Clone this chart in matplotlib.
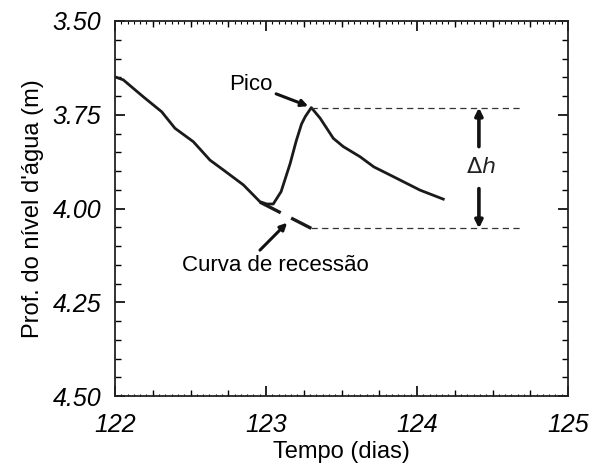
import matplotlib
matplotlib.use("Agg")
import matplotlib.pyplot as plt
from matplotlib.ticker import MultipleLocator, FixedLocator, NullFormatter

plt.rcParams['font.family'] = ['Liberation Sans', 'DejaVu Sans']

# ---- data ----
time_days = [122.000, 122.055, 122.187, 122.309, 122.397, 122.519, 122.629, 122.717,
             122.850, 122.960, 123.005, 123.048, 123.100, 123.160, 123.200, 123.235,
             123.260, 123.300, 123.358, 123.446, 123.512, 123.623, 123.714, 123.843,
             124.020, 124.174]
depth_m = [3.649, 3.657, 3.702, 3.742, 3.786, 3.822, 3.871, 3.897,
           3.937, 3.982, 3.988, 3.988, 3.955, 3.880, 3.820, 3.775,
           3.755, 3.731, 3.759, 3.813, 3.835, 3.862, 3.889, 3.915,
           3.951, 3.975]
recession_t = [122.96, 123.13, 123.30]
recession_d = [3.983, 4.018, 4.053]
peak_level = 3.731
recession_level = 4.053
ref_line_end = 124.70
dh_x = 124.41

xticks = [122, 123, 124, 125]
yticks = [3.50, 3.75, 4.00, 4.25, 4.50]
ytick_labels = ['3.50', '3.75', '4.00', '4.25', '4.50']
quarter_ticks = [122.25, 122.5, 122.75, 123.25, 123.5, 123.75, 124.25, 124.5, 124.75]

fig = plt.figure(figsize=(5.94, 4.66), dpi=100)
ax = fig.add_axes([115/594, 1-396/466, (568-115)/594, (396-21)/466])

ax.plot(time_days, depth_m, color='#1a1a1a', lw=2.0, solid_joinstyle='round')
ax.plot(recession_t, recession_d, color='#1a1a1a', lw=2.4, dashes=(7, 3.5))

for lvl in (peak_level, recession_level):
    ax.plot([recession_t[-1], ref_line_end], [lvl, lvl], color='#333333', lw=0.9,
            dashes=(5, 3.5))

ax.set_xlim(122, 125)
ax.set_ylim(4.5, 3.5)

# ticks
ax.xaxis.set_major_locator(FixedLocator(xticks))
ax.xaxis.set_minor_locator(MultipleLocator(1/24))
ax.yaxis.set_major_locator(FixedLocator(yticks))
ax.yaxis.set_major_formatter(plt.FixedFormatter(ytick_labels))
ax.yaxis.set_minor_locator(MultipleLocator(0.05))
ax.tick_params(which='major', direction='in', length=7, width=1.2,
               top=True, right=True, labelsize=18)
ax.tick_params(axis='x', which='major', pad=12)
ax.tick_params(axis='y', which='major', pad=10)
ax.tick_params(which='minor', direction='in', length=1.8, width=0.8,
               top=True, right=True)
ax.tick_params(axis='y', which='minor', length=4, width=1.0)
for lab in ax.get_xticklabels() + ax.get_yticklabels():
    lab.set_fontstyle('italic')

# quarter-day ticks
for loc in ('bottom', 'top'):
    sec = ax.secondary_xaxis(loc)
    sec.xaxis.set_major_locator(FixedLocator(quarter_ticks))
    sec.xaxis.set_major_formatter(NullFormatter())
    sec.tick_params(direction='in', length=4, width=1.0)
    sec.spines[loc].set_visible(False)

for sp in ax.spines.values():
    sp.set_linewidth(1.3)
    sp.set_color('#222222')

ax.set_xlabel('Tempo (dias)', fontsize=17, labelpad=3)
ax.set_ylabel("Prof. do nível d'água (m)", fontsize=17, labelpad=6)

# annotations
ax.annotate('Pico', xy=(123.28, 3.727), xytext=(123.04, 3.668),
            fontsize=16, ha='right', va='center',
            arrowprops=dict(arrowstyle='-|>', color='#111111', lw=2.2,
                            mutation_scale=10, shrinkA=1, shrinkB=0))
ax.annotate('', xy=(123.14, 4.038), xytext=(122.96, 4.111),
            arrowprops=dict(arrowstyle='-|>', color='#111111', lw=2.2,
                            mutation_scale=10, shrinkA=0, shrinkB=0))
ax.text(123.06, 4.152, 'Curva de recessão', fontsize=16, ha='center', va='center')

ax.annotate('', xy=(dh_x, peak_level), xytext=(dh_x, 3.835),
            arrowprops=dict(arrowstyle='-|>', color='#111111', lw=2.6,
                            mutation_scale=11, shrinkA=0, shrinkB=0))
ax.annotate('', xy=(dh_x, recession_level), xytext=(dh_x, 3.947),
            arrowprops=dict(arrowstyle='-|>', color='#111111', lw=2.6,
                            mutation_scale=11, shrinkA=0, shrinkB=0))
ax.text(dh_x + 0.01, 3.89, r'$\Delta\mathit{h}$', fontsize=16, ha='center', va='center',
        color='#222222')

fig.savefig('out.png', dpi=100)
